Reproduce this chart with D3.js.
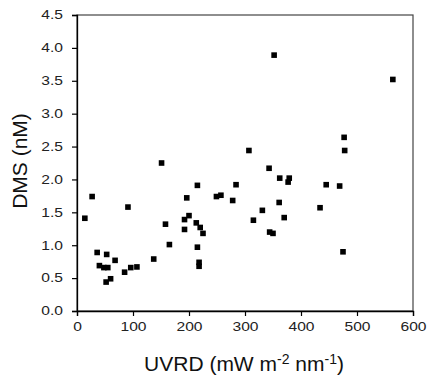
<!DOCTYPE html>
<html>
<head>
<meta charset="utf-8">
<script src="https://cdn.jsdelivr.net/npm/d3@7"></script>
<style>
  body { margin: 0; background: #fff; }
  svg { display: block; font-family: Arial, "Liberation Sans", sans-serif; }
</style>
</head>
<body>
<svg id="chart" width="427" height="378"></svg>
<script>
// UVRD (x) and DMS (y)
const uvrd = [14, 27, 36, 40, 48, 53, 55, 52, 60, 68, 85, 91, 96, 107, 137, 151, 158, 165,
  192, 192, 196, 200, 215, 213, 220, 225, 215, 218, 218, 249, 257, 278, 284, 307, 315,
  331, 343, 344, 350, 352, 361, 362, 370, 377, 379, 434, 445, 469, 475, 477, 478, 564];
const dms = [1.41, 1.74, 0.89, 0.69, 0.66, 0.86, 0.66, 0.44, 0.49, 0.77, 0.59, 1.58, 0.66,
  0.67, 0.79, 2.25, 1.32, 1.01, 1.24, 1.39, 1.72, 1.45, 1.91, 1.34, 1.27, 1.18, 0.97, 0.74,
  0.68, 1.74, 1.76, 1.68, 1.92, 2.44, 1.38, 1.53, 2.17, 1.20, 1.18, 3.89, 1.65, 2.02, 1.42,
  1.96, 2.02, 1.57, 1.92, 1.90, 0.90, 2.64, 2.44, 3.52];
const xTicks = [0, 100, 200, 300, 400, 500, 600];
const yTicks = [0, 0.5, 1, 1.5, 2, 2.5, 3, 3.5, 4, 4.5];

const margin = { top: 15, right: 14, bottom: 67, left: 77 };
const svg = d3.select('#chart');
const width = +svg.attr('width') - margin.left - margin.right;
const height = +svg.attr('height') - margin.top - margin.bottom;

const x = d3.scaleLinear().domain([0, 600]).range([0, width]);
const y = d3.scaleLinear().domain([0, 4.5]).range([height, 0]);

const g = svg.append('g').attr('transform', `translate(${margin.left},${margin.top})`);

// plot frame (top / right)
g.append('rect')
  .attr('width', width).attr('height', height)
  .attr('fill', 'none').attr('stroke', '#444').attr('stroke-width', 1.2);

const xAxis = g.append('g')
  .attr('transform', `translate(0,${height})`)
  .call(d3.axisBottom(x).tickValues(xTicks).tickFormat(d3.format('d')).tickSize(5).tickPadding(9));
const yAxis = g.append('g')
  .call(d3.axisLeft(y).tickValues(yTicks).tickFormat(d3.format('.1f')).tickSize(5).tickPadding(9));

[xAxis, yAxis].forEach(a => {
  a.select('.domain').attr('stroke', '#000').attr('stroke-width', 1.3);
  a.selectAll('.tick line').attr('stroke', '#000').attr('stroke-width', 1.2);
  a.selectAll('.tick text')
    .attr('fill', '#222')
    .style('font-size', '12px')
    .style('font-family', 'Arial, "Liberation Sans", sans-serif');
});
// the tick labels in the figure are drawn wide
xAxis.selectAll('.tick text').attr('transform', 'scale(1.3,1)').attr('dy', '0.75em').attr('y', 11);
yAxis.selectAll('.tick text').attr('x', -14 / 1.3).attr('transform', 'scale(1.3,1)');

// points
g.selectAll('.pt')
  .data(uvrd.map((v, i) => [v, dms[i]]))
  .enter()
  .append('rect')
  .attr('class', 'pt')
  .attr('x', d => x(d[0]) - 2.8)
  .attr('y', d => y(d[1]) - 2.8)
  .attr('width', 5.6)
  .attr('height', 5.6)
  .attr('fill', '#000');

// axis titles
const xt = svg.append('text')
  .attr('x', 244).attr('y', 371)
  .attr('text-anchor', 'middle')
  .style('font-size', '21px')
  .attr('fill', '#111');
xt.append('tspan').text('UVRD (mW m');
xt.append('tspan').attr('dy', -7).style('font-size', '14px').text('-2');
xt.append('tspan').attr('dy', 7).text(' nm');
xt.append('tspan').attr('dy', -7).style('font-size', '14px').text('-1');
xt.append('tspan').attr('dy', 7).text(')');

svg.append('text')
  .attr('transform', 'translate(27,161) rotate(-90)')
  .attr('text-anchor', 'middle')
  .style('font-size', '21px')
  .attr('fill', '#111')
  .text('DMS (nM)');
</script>
</body>
</html>
